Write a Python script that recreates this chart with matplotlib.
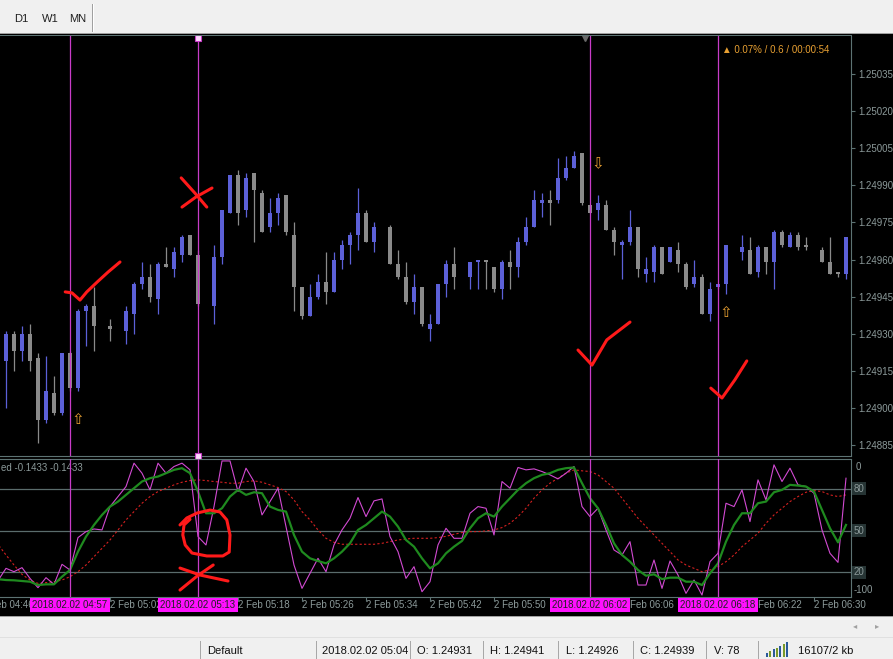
import numpy as np
import matplotlib
matplotlib.use('Agg')
import matplotlib.pyplot as plt
from matplotlib.patches import Rectangle
from matplotlib.lines import Line2D
from matplotlib.transforms import blended_transform_factory as blend

plt.rcParams['font.family'] = ['Liberation Sans', 'DejaVu Sans']

W, H = 893, 659
nan = float('nan')

# M1 bars, 2018.02.02, first bar 04:48 (nan = no bar drawn)
first_bar = '04:48'
opens = [1.24973, 1.24919, 1.24930, 1.24923, 1.24930, 1.24920, 1.24895, 1.24906, 1.24898, 1.24922,
         1.24908, 1.24939, 1.24941, nan, 1.24933, nan, 1.24931, 1.24938, 1.24950, 1.24953,
         1.24944, 1.24958, 1.24956, 1.24962, 1.24970, 1.24962, nan, 1.24941, 1.24961, 1.24979,
         1.24994, 1.24980, 1.24995, 1.24987, 1.24973, 1.24979, 1.24986, 1.24970, 1.24949, 1.24937,
         1.24945, 1.24951, 1.24947, 1.24960, 1.24966, 1.24970, 1.24979, 1.24967, nan, 1.24973,
         1.24958, 1.24953, 1.24943, 1.24949, 1.24932, 1.24934, 1.24950, 1.24958, nan, 1.24953,
         1.24959, 1.24960, 1.24957, 1.24948, 1.24959, 1.24957, 1.24967, 1.24973, 1.24983, 1.24984,
         1.24984, 1.24993, 1.24997, 1.25003, 1.24982, 1.24980, 1.24982, 1.24972, 1.24966, 1.24967,
         1.24973, 1.24954, 1.24955, 1.24965, 1.24959, 1.24964, 1.24958, 1.24950, 1.24953, 1.24938,
         1.24949, 1.24950, nan, 1.24963, 1.24964, 1.24955, 1.24965, 1.24959, 1.24971, 1.24965,
         1.24970, 1.24966, nan, 1.24964, 1.24959, 1.24955, 1.24954]
highs = [1.24973, 1.24931, 1.24931, 1.24933, 1.24934, 1.24922, 1.24921, 1.24913, 1.24922, 1.24923,
         1.24940, 1.24942, 1.24949, nan, 1.24936, nan, 1.24941, 1.24951, 1.24959, 1.24958,
         1.24959, 1.24965, 1.24965, 1.24970, 1.24970, 1.24964, nan, 1.24966, 1.24980, 1.24994,
         1.24996, 1.24995, 1.24995, 1.24988, 1.24985, 1.24987, 1.24986, 1.24975, 1.24949, 1.24950,
         1.24954, 1.24963, 1.24963, 1.24968, 1.24971, 1.24989, 1.24980, 1.24975, nan, 1.24974,
         1.24964, 1.24959, 1.24954, 1.24949, 1.24938, 1.24950, 1.24960, 1.24965, nan, 1.24959,
         1.24960, 1.24960, 1.24957, 1.24960, 1.24964, 1.24969, 1.24977, 1.24988, 1.24987, 1.24988,
         1.25001, 1.25002, 1.25004, 1.25003, 1.24982, 1.24986, 1.24984, 1.24973, 1.24968, 1.24980,
         1.24973, 1.24961, 1.24966, 1.24965, 1.24965, 1.24967, 1.24959, 1.24960, 1.24954, 1.24951,
         1.24950, 1.24966, nan, 1.24970, 1.24969, 1.24966, 1.24965, 1.24972, 1.24972, 1.24971,
         1.24971, 1.24969, nan, 1.24965, 1.24969, 1.24955, 1.24969]
lows = [1.24919, 1.24900, 1.24915, 1.24919, 1.24915, 1.24886, 1.24894, 1.24897, 1.24897, 1.24907,
        1.24907, 1.24925, 1.24923, nan, 1.24927, nan, 1.24926, 1.24930, 1.24948, 1.24943,
        1.24938, 1.24957, 1.24953, 1.24959, 1.24962, 1.24941, nan, 1.24934, 1.24958, 1.24979,
        1.24974, 1.24977, 1.24967, 1.24971, 1.24971, 1.24974, 1.24970, 1.24939, 1.24936, 1.24937,
        1.24944, 1.24942, 1.24947, 1.24956, 1.24958, 1.24964, 1.24967, 1.24963, nan, 1.24958,
        1.24952, 1.24942, 1.24938, 1.24933, 1.24927, 1.24934, 1.24945, 1.24948, nan, 1.24948,
        1.24948, 1.24948, 1.24947, 1.24944, 1.24948, 1.24953, 1.24966, 1.24973, 1.24977, 1.24974,
        1.24983, 1.24992, 1.24997, 1.24982, 1.24979, 1.24976, 1.24972, 1.24962, 1.24952, 1.24966,
        1.24953, 1.24951, 1.24951, 1.24954, 1.24959, 1.24955, 1.24948, 1.24949, 1.24938, 1.24935,
        1.24948, 1.24946, nan, 1.24960, 1.24954, 1.24953, 1.24954, 1.24948, 1.24965, 1.24965,
        1.24964, 1.24964, nan, 1.24959, 1.24954, 1.24953, 1.24952]
closes = [1.24919, 1.24930, 1.24923, 1.24930, 1.24919, 1.24895, 1.24907, 1.24898, 1.24922, 1.24908,
          1.24939, 1.24941, 1.24933, nan, 1.24932, nan, 1.24939, 1.24950, 1.24953, 1.24945,
          1.24958, 1.24957, 1.24963, 1.24969, 1.24962, 1.24942, nan, 1.24961, 1.24980, 1.24994,
          1.24979, 1.24993, 1.24988, 1.24971, 1.24979, 1.24985, 1.24971, 1.24949, 1.24937, 1.24945,
          1.24951, 1.24947, 1.24960, 1.24966, 1.24970, 1.24979, 1.24967, 1.24973, nan, 1.24958,
          1.24953, 1.24943, 1.24949, 1.24934, 1.24934, 1.24950, 1.24958, 1.24953, nan, 1.24959,
          1.24960, 1.24959, 1.24948, 1.24959, 1.24957, 1.24967, 1.24973, 1.24984, 1.24984, 1.24983,
          1.24993, 1.24997, 1.25002, 1.24983, 1.24979, 1.24983, 1.24972, 1.24967, 1.24967, 1.24973,
          1.24956, 1.24956, 1.24965, 1.24954, 1.24965, 1.24958, 1.24949, 1.24953, 1.24938, 1.24948,
          1.24950, 1.24966, nan, 1.24965, 1.24954, 1.24965, 1.24959, 1.24971, 1.24966, 1.24970,
          1.24965, 1.24965, nan, 1.24959, 1.24954, 1.24954, 1.24969]

# oscillator (one value per bar)
osc_main = [14.0, 22.8, 20.4, 23.3, 15.6, 8.9, 16.1, 11.3, 25.7, 21.6, 44.9,
            49.2, 51.1, 50.4, 67.2, 74.4, 81.6, 98.4, 91.2, 79.2, 98.4,
            91.2, 96.0, 98.4, 93.6, 45.6, 39.6, 67.2, 100, 100, 78.0,
            94.8, 85.2, 61.2, 70.8, 80.4, 52.8, 25.2, 8.4, 19.2, 30.0,
            20.4, 39.6, 50.4, 58.8, 73.7, 60.0, 71.3, 72.7, 45.6, 34.8,
            15.6, 24.0, 6.0, 13.2, 39.6, 51.6, 44.4, 44.4, 62.4, 67.2,
            66.0, 46.8, 85.2, 80.4, 95.3, 93.6, 94.3, 92.4, 90.0, 87.1,
            91.2, 96.0, 67.2, 60.0, 66.0, 50.4, 36.0, 32.4, 42.0, 10.8,
            10.8, 28.8, 8.4, 28.1, 18.0, 4.8, 14.4, 3.6, 27.6, 33.6,
            69.6, 67.2, 79.2, 56.4, 86.4, 72.0, 97.2, 85.2, 94.8, 82.8,
            81.6, 76.8, 50.4, 33.6, 27.1, 87.6]
osc_signal = [15.0, 14.4, 14.2, 13.7, 13.2, 10.8, 11.3, 11.3, 16.8, 21.6, 34.8,
              45.6, 54.0, 61.2, 67.2, 70.8, 75.6, 80.4, 85.2, 87.6, 88.8,
              91.2, 93.6, 94.8, 91.2, 78.0, 62.4, 62.4, 66.0, 74.4, 79.2,
              75.6, 77.5, 76.8, 67.2, 64.8, 63.6, 46.8, 34.8, 30.0, 28.1,
              26.4, 30.0, 34.8, 40.8, 50.4, 54.0, 58.8, 63.6, 60.0, 52.8,
              43.2, 38.4, 30.0, 22.8, 26.4, 33.6, 38.4, 42.5, 51.6, 58.8,
              62.4, 60.0, 67.2, 73.2, 79.2, 84.0, 87.6, 90.0, 91.2, 93.6,
              94.8, 95.3, 84.0, 73.2, 66.0, 54.0, 40.8, 32.4, 27.6, 21.6,
              17.5, 18.5, 15.1, 16.1, 16.1, 13.2, 13.2, 10.8, 19.2, 26.4,
              42.0, 54.0, 62.4, 62.4, 69.6, 70.8, 77.5, 79.2, 82.8, 82.3,
              81.6, 78.0, 64.8, 51.6, 41.5, 54.0]
osc_slow = [40.0, 32.4, 25.2, 18.5, 14.4, 12.0, 12.5, 13.2, 14.4, 16.8, 20.4,
            25.2, 31.2, 37.2, 43.2, 50.4, 57.6, 63.6, 69.6, 74.4, 78.0,
            80.4, 82.8, 84.7, 85.9, 86.4, 85.9, 85.2, 84.7, 84.0, 84.0,
            85.2, 85.7, 84.7, 82.8, 80.9, 78.0, 72.0, 63.6, 57.6, 50.4,
            44.4, 41.5, 40.1, 40.1, 40.1, 40.1, 40.1, 40.8, 42.0, 43.2,
            43.9, 44.4, 44.4, 44.4, 44.9, 45.8, 47.3, 48.5, 49.2, 49.2,
            49.7, 50.4, 52.1, 55.2, 60.0, 66.0, 73.2, 79.2, 84.0, 87.6,
            91.2, 93.6, 92.9, 92.4, 90.0, 85.2, 80.4, 73.2, 66.0, 58.8,
            52.8, 46.8, 40.8, 34.8, 28.8, 25.2, 22.8, 20.4, 21.6, 24.0,
            27.6, 32.4, 38.4, 43.2, 48.0, 55.2, 61.2, 66.0, 70.8, 74.4,
            77.5, 78.7, 78.0, 75.6, 74.4, 75.6]
osc_levels = [80, 50, 20]

price_ticks = [1.25035, 1.25020, 1.25005, 1.24990, 1.24975, 1.24960,
               1.24945, 1.24930, 1.24915, 1.24900, 1.24885]
time_ticks = ['04:46', '05:02', '05:18', '05:26', '05:34', '05:42', '05:50', '06:06', '06:22', '06:30']
vline_times = ['04:57', '05:13', '06:02', '06:18']
arrows_up = [('04:58', 1.248955), ('06:19', 1.249384)]
arrows_down = [('06:03', 1.249986)]

# hand-drawn red marks: (bar index, price) / (bar index, osc value)
check_1 = [(7.4, 1.249469), (8.25, 1.249465), (9.25, 1.249436), (10.1, 1.249469),
           (11.4, 1.249509), (12.75, 1.249549), (14.25, 1.249590)]
check_2 = [(71.5, 1.249234), (73.25, 1.249173), (75.1, 1.249275), (78.0, 1.249347)]
check_3 = [(88.1, 1.249080), (89.5, 1.249040), (91.1, 1.249113), (92.6, 1.249190)]
cross_1a = [(21.9, 1.249930), (23.6, 1.249869), (25.1, 1.249812)]
cross_1b = [(22.0, 1.249812), (23.75, 1.249853), (25.75, 1.249889)]
circle_osc = [(21.75, 54.0), (22.6, 59.0), (23.9, 62.6), (25.5, 64.7), (26.75, 63.3),
              (27.6, 57.6), (28.0, 46.8), (27.9, 34.5), (27.1, 31.7), (25.1, 31.7),
              (23.25, 33.8), (22.4, 39.6), (22.1, 46.8), (22.25, 54.0), (23.0, 58.0)]
cross_2a = [(21.75, 23.0), (24.25, 18.0), (27.75, 13.7)]
cross_2b = [(25.9, 25.2), (23.9, 17.3), (21.75, 7.2)]


def idx(t):
    hh, mm = map(int, t.split(':'))
    return hh * 60 + mm - (4 * 60 + 49)


BULL = '#5c60d8'
BEAR = '#8a8a8a'
MAG = '#c83cc8'
AXC = '#5d7373'
LBL = '#8c9a9a'
ORANGE = '#e8a032'
INK = '#ff1a1a'

fig = plt.figure(figsize=(W / 100, H / 100), dpi=100)
fig.patch.set_facecolor('black')


def pax(x0, y0, x1, y1):
    return fig.add_axes([x0 / W, 1 - y1 / H, (x1 - x0) / W, (y1 - y0) / H])


def rect(x0, y0, x1, y1, color):
    fig.patches.append(Rectangle((x0 / W, 1 - y1 / H), (x1 - x0) / W, (y1 - y0) / H,
                                 transform=fig.transFigure, fc=color, ec='none', zorder=1))


def hline(x0, x1, y, color, lw=1):
    fig.lines.append(Line2D([x0 / W, x1 / W], [1 - y / H, 1 - y / H], transform=fig.transFigure,
                            color=color, lw=lw * 0.72, zorder=2))


def vline(x, y0, y1, color, lw=1):
    fig.lines.append(Line2D([x / W, x / W], [1 - y0 / H, 1 - y1 / H], transform=fig.transFigure,
                            color=color, lw=lw * 0.72, zorder=2))


def ftext(x, y, s, **kw):
    fig.text(x / W, 1 - y / H, s, **kw)


# ---------- main price panel ----------
x = np.arange(len(opens)) + idx(first_bar)
o, h, l, c = (np.array(a, dtype=float) for a in (opens, highs, lows, closes))
ok = ~np.isnan(o)
col = np.where(c >= o, BULL, BEAR)

ax = pax(0, 36, 851, 456)
ax.set_facecolor('black')
ax.vlines(x[ok], l[ok], h[ok], colors=col[ok], lw=0.9, zorder=2)
body_lo = np.minimum(o, c)
body_h = np.maximum(np.abs(c - o), 0.45e-5)
ax.bar(x[ok], body_h[ok], bottom=body_lo[ok], width=0.62, color=col[ok], lw=0, zorder=3)
ax.set_xlim(-0.75, 105.625)
ax.set_ylim(1.2488055, 1.2505037)
ax.yaxis.tick_right()
ax.set_yticks(price_ticks, [f'{p:.5f}' for p in price_ticks])
ax.tick_params(axis='y', length=3, width=0.8, color=AXC, labelcolor=LBL, labelsize=7, pad=2)
ax.tick_params(axis='x', bottom=False, labelbottom=False)
for s in ['left', 'top']:
    ax.spines[s].set_visible(False)
for s in ['right', 'bottom']:
    ax.spines[s].set_color(AXC)

for t in vline_times:
    ax.axvline(idx(t), color=MAG, lw=0.9, zorder=4)

for t, p in arrows_up:
    ax.text(idx(t), p, '\u21e7', color=ORANGE, fontsize=11, ha='center', va='center',
            family='DejaVu Sans', zorder=5)
for t, p in arrows_down:
    ax.text(idx(t), p, '\u21e9', color=ORANGE, fontsize=11, ha='center', va='center',
            family='DejaVu Sans', zorder=5)

for stroke in (check_1, check_2, check_3, cross_1a, cross_1b):
    sx, sy = zip(*stroke)
    ax.plot(sx, sy, color=INK, lw=2.2, solid_capstyle='round', solid_joinstyle='round', zorder=6)

tr_top = blend(ax.transData, ax.transAxes)
ax.plot([idx(vline_times[1])], [0.995], marker='s', ms=4, mfc='#ffd8ff', mec=MAG, mew=0.8,
        transform=tr_top, clip_on=False, zorder=7)
ax.plot([idx(vline_times[1])], [0.0], marker='s', ms=4, mfc='#ffd8ff', mec=MAG, mew=0.8,
        transform=tr_top, clip_on=False, zorder=7)
ax.plot([72.4], [0.996], marker='v', ms=5, color='#6a6a6a', transform=tr_top, clip_on=False, zorder=7)

ax.text(0.848, 0.966, '\u25b2 0.07% / 0.6 / 00:00:54', transform=ax.transAxes, color=ORANGE,
        fontsize=7, ha='left', va='center')

# ---------- oscillator panel ----------
ai = pax(0, 459, 851, 597)
ai.set_facecolor('black')
xi = np.arange(len(osc_main)) + idx(first_bar)
for lv in osc_levels:
    ai.axhline(lv, color='#5a6c6c', lw=0.9, zorder=1)
ai.plot(xi, osc_slow, color='#d42020', lw=0.8, ls=(0, (2, 2)), zorder=2)
ai.plot(xi, osc_main, color='#d24ad2', lw=0.8, zorder=3)
ai.plot(xi, osc_signal, color='#1f8a1f', lw=1.6, zorder=4)
for t in vline_times:
    ai.axvline(idx(t), color=MAG, lw=0.9, zorder=5)
for stroke in (circle_osc, cross_2a, cross_2b):
    sx, sy = zip(*stroke)
    ai.plot(sx, sy, color=INK, lw=2.2, solid_capstyle='round', solid_joinstyle='round', zorder=6)
ai.set_xlim(-0.75, 105.625)
ai.set_ylim(2.2, 101.4)
ai.set_yticks([])
ai.set_xticks([idx(t) for t in time_ticks if idx(t) > -0.75])
ai.tick_params(axis='x', length=3, width=0.8, color=AXC, labelbottom=False)
ai.spines['left'].set_visible(False)
for s in ['right', 'top', 'bottom']:
    ai.spines[s].set_color(AXC)

tr_r = blend(ai.transAxes, ai.transData)
for lv in osc_levels:
    ai.text(1.003, lv, str(lv), transform=tr_r, color=LBL, fontsize=7, ha='left', va='center',
            bbox=dict(fc='#263434', ec='none', pad=1.2))
ai.text(1.006, 95.7, '0', transform=tr_r, color=LBL, fontsize=7, ha='left', va='center')
ai.text(1.003, 7.2, '-100', transform=tr_r, color=LBL, fontsize=7, ha='left', va='center')
ai.text(0.001, 0.935, 'ed -0.1433 -0.1433', transform=ai.transAxes, color=LBL, fontsize=7,
        ha='left', va='center')

# time labels
tr_t = blend(ai.transData, fig.transFigure)
for t in time_ticks:
    fig.text(idx(t), 1 - 605 / H, '2 Feb ' + t, transform=tr_t, color=LBL, fontsize=7,
             ha='left', va='center', zorder=3)
for t in vline_times:
    fig.text(idx(t), 1 - 605 / H, '2018.02.02 ' + t, transform=tr_t, color='#202020', fontsize=7,
             ha='center', va='center', zorder=4,
             bbox=dict(boxstyle='square,pad=0.25', fc='#ff10ff', ec='none'))

# ---------- window chrome ----------
rect(0, 0, W, 33, '#f0f0f0')
hline(0, W, 32.5, '#a0a0a0')
hline(0, 851, 34.5, AXC)
vline(92, 4, 31, '#a0a0a0')
vline(93, 4, 31, '#ffffff')
for xx, s in [(14, 'D1'), (42, 'W1'), (69, 'MN')]:
    ftext(xx, 19, s, color='#202020', fontsize=8, va='center')

rect(0, 616, W, H, '#f0f0f0')
hline(0, W, 615.5, '#a0a0a0')
hline(0, W, 637, '#e0e0e0')
ftext(853, 627, '\u25c2', color='#a0a0a0', fontsize=6, va='center')
ftext(875, 627, '\u25b8', color='#a0a0a0', fontsize=6, va='center')
for xx in [200, 316, 410, 483, 558, 633, 706, 758]:
    vline(xx, 641, 659, '#a8a8a8')
status = [(207, 'Default'), (322, '2018.02.02 05:04'), (417, 'O: 1.24931'), (490, 'H: 1.24941'),
          (566, 'L: 1.24926'), (640, 'C: 1.24939'), (714, 'V: 78'), (798, '16107/2 kb')]
for xx, s in status:
    ftext(xx, 651, s, color='#101010', fontsize=8, va='center')
for i in range(7):
    rect(766 + i * 3.3, 657 - (4 + i * 1.8), 766 + i * 3.3 + 2, 657, '#7a9a2a' if i % 2 else '#2a5a9a')

fig.savefig('out.png', dpi=100, facecolor=fig.get_facecolor())
